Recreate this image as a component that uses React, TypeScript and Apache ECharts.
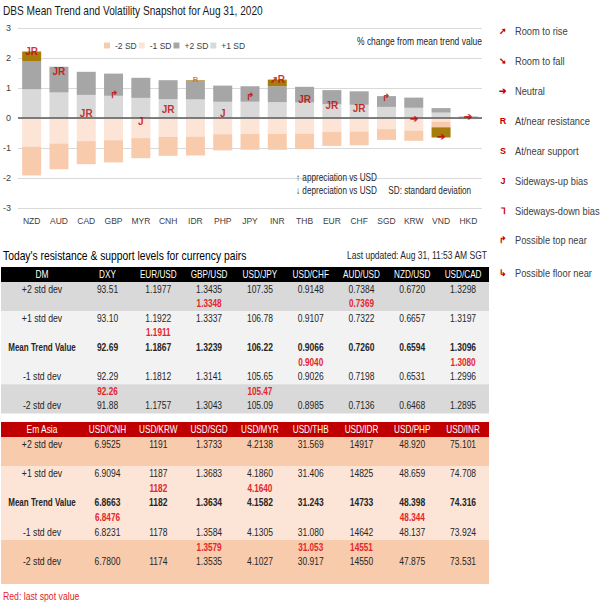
import React, { useEffect, useRef } from "react";
import * as echarts from "echarts";

const FONT = '"Liberation Sans Narrow", "Arial Narrow", "Liberation Sans", Arial, sans-serif';

// ---- chart data (% change from mean trend value) ----
const categories = ["NZD", "AUD", "CAD", "GBP", "MYR", "CNH", "IDR", "PHP", "JPY", "INR", "THB", "EUR", "CHF", "SGD", "KRW", "VND", "HKD"];
const plus1SD = [0.96, 0.85, 0.77, 0.74, 0.67, 0.63, 0.62, 0.54, 0.54, 0.53, 0.52, 0.46, 0.44, 0.37, 0.34, 0.18, 0.03];
const plus2SD = [1.9, 1.71, 1.54, 1.48, 1.34, 1.26, 1.24, 1.08, 1.06, 1.06, 1.04, 0.93, 0.89, 0.73, 0.68, 0.33, 0.05];
const minus1SD = [-0.96, -0.85, -0.77, -0.74, -0.67, -0.63, -0.62, -0.54, -0.53, -0.53, -0.52, -0.46, -0.45, -0.37, -0.42, -0.12, -0.02];
const minus2SD = [-1.92, -1.71, -1.54, -1.48, -1.34, -1.26, -1.25, -1.08, -1.06, -1.06, -1.04, -0.93, -0.91, -0.73, -0.76, -0.31, -0.04];
const spotAbove: (number | null)[] = [2.22, null, null, null, null, null, 1.26, null, null, 1.28, null, null, null, null, null, null, null];
const spotBelow: (number | null)[] = [null, null, null, null, null, null, null, null, null, null, null, null, null, null, null, -0.65, null];
const markerText = ["JR", "JR", "JR", "↱", "J", "JR", "R", "J", "↱", "➚R", "JR", "JR", "JR", "↱", "➔", "➔", "➔"];
const markerY = [2.21, 1.54, 0.14, 0.8, -0.1, 0.3, 1.3, 0.15, 0.71, 1.3, 0.62, 0.41, 0.32, 0.7, 0.0, -0.6, 0.06];
const yTicks = { min: -3, max: 3, interval: 1 };
const legendNames = ["-2 SD", "-1 SD", "+2 SD", "+1 SD"];

const signalGlyphs = ["➚", "➘", "➔", "R", "S", "J", "⅂", "↱", "↳"];
const signalLabels = ["Room to rise", "Room to fall", "Neutral", "At/near resistance", "At/near support", "Sideways-up bias", "Sideways-down bias", "Possible top near", "Possible floor near"];

// ---- table data ----
const levelLabels = ["+2 std dev", "+1 std dev", "Mean Trend Value", "-1 std dev", "-2 std dev"];
const dmHeaders = ["DM", "DXY", "EUR/USD", "GBP/USD", "USD/JPY", "USD/CHF", "AUD/USD", "NZD/USD", "USD/CAD"];
const dmPlus2 = ["93.51", "1.1977", "1.3435", "107.35", "0.9148", "0.7384", "0.6720", "1.3298"];
const dmPlus1 = ["93.10", "1.1922", "1.3337", "106.78", "0.9107", "0.7322", "0.6657", "1.3197"];
const dmMean = ["92.69", "1.1867", "1.3239", "106.22", "0.9066", "0.7260", "0.6594", "1.3096"];
const dmMinus1 = ["92.29", "1.1812", "1.3141", "105.65", "0.9026", "0.7198", "0.6531", "1.2996"];
const dmMinus2 = ["91.88", "1.1757", "1.3043", "105.09", "0.8985", "0.7136", "0.6468", "1.2895"];
const dmSpot = ["92.26", "1.1911", "1.3348", "105.47", "0.9040", "0.7369", "", "1.3080"];
const dmSpotRow = [7, 3, 1, 7, 5, 1, -1, 5];

const emHeaders = ["Em Asia", "USD/CNH", "USD/KRW", "USD/SGD", "USD/MYR", "USD/THB", "USD/IDR", "USD/PHP", "USD/INR"];
const emPlus2 = ["6.9525", "1191", "1.3733", "4.2138", "31.569", "14917", "48.920", "75.101"];
const emPlus1 = ["6.9094", "1187", "1.3683", "4.1860", "31.406", "14825", "48.659", "74.708"];
const emMean = ["6.8663", "1182", "1.3634", "4.1582", "31.243", "14733", "48.398", "74.316"];
const emMinus1 = ["6.8231", "1178", "1.3584", "4.1305", "31.080", "14642", "48.137", "73.924"];
const emMinus2 = ["6.7800", "1174", "1.3535", "4.1027", "30.917", "14550", "47.875", "73.531"];
const emSpot = ["6.8476", "1182", "1.3579", "4.1640", "31.053", "14551", "48.344", ""];
const emSpotRow = [5, 3, 7, 3, 7, 7, 5, -1];

const RED = "#e3262b";
const DARKRED = "#c00000";
const TXT = "#262626";

function txt(text: string, x: number, y: number, opts: any = {}) {
  const align = opts.align || "left";
  const s = opts.scale == null ? 0.87 : opts.scale;
  return {
    type: "text",
    silent: true,
    z: 100,
    x,
    y,
    scaleX: s,
    scaleY: 1,
    style: {
      text,
      x: 0,
      y: 0,
      fill: opts.fill || TXT,
      fontSize: opts.fontSize || 9,
      fontWeight: opts.fontWeight || "normal",
      fontFamily: FONT,
      align,
      textAlign: align,
      verticalAlign: "middle",
      textVerticalAlign: "middle",
    },
  };
}

function buildTable(
  top: number,
  rowH: number,
  nRows: number,
  headers: string[],
  levels: string[][],
  spot: string[],
  spotRow: number[],
  headerColor: string,
  bandDark: string,
  bandLight: string
) {
  const els: any[] = [];
  const left = 1;
  const width = 488;
  const headerH = 15;
  const colX = (i: number) => 107.5 + 50.8 * i;
  els.push({ type: "rect", silent: true, z: 10, shape: { x: left, y: top, width, height: headerH }, style: { fill: headerColor } });
  const bodyTop = top + headerH;
  const bands = [
    [0, 2, bandDark],
    [2, 7, bandLight],
    [7, nRows, bandDark],
  ];
  bands.forEach(([a, b, c]) => {
    els.push({
      type: "rect",
      silent: true,
      z: 10,
      shape: { x: left, y: bodyTop + (a as number) * rowH, width, height: ((b as number) - (a as number)) * rowH },
      style: { fill: c as string },
    });
  });
  els.push(txt(headers[0], 42, top + headerH / 2 + 0.5, { align: "center", fill: "#fff", fontSize: 10, scale: 0.84 }));
  for (let i = 1; i < headers.length; i++) {
    els.push(txt(headers[i], colX(i - 1), top + headerH / 2 + 0.5, { align: "center", fill: "#fff", fontSize: 10, scale: 0.82 }));
  }
  levels.forEach((vals, li) => {
    const r = li * 2;
    const cy = bodyTop + r * rowH + rowH / 2;
    const bold = li === 2 ? "bold" : "normal";
    els.push(txt(levelLabels[li], 42, cy, { align: "center", fontWeight: bold, fontSize: 10, scale: li === 2 ? 0.8 : 0.87 }));
    vals.forEach((v, ci) => {
      els.push(txt(v, colX(ci), cy, { align: "center", fontWeight: bold, fontSize: 10, scale: 0.85 }));
    });
  });
  spot.forEach((v, ci) => {
    if (!v || spotRow[ci] < 0) return;
    const cy = bodyTop + spotRow[ci] * rowH + rowH / 2;
    els.push(txt(v, colX(ci), cy, { align: "center", fill: RED, fontWeight: "bold", fontSize: 10, scale: 0.82 }));
  });
  return els;
}

export default function App() {
  const ref = useRef<HTMLDivElement>(null);
  useEffect(() => {
    if (!ref.current) return;
    const chart = echarts.init(ref.current, undefined, { renderer: "svg" });

    const diffUp = plus2SD.map((v, i) => +(v - plus1SD[i]).toFixed(3));
    const diffDown = minus2SD.map((v, i) => +(v - minus1SD[i]).toFixed(3));
    const goldUp = spotAbove.map((v, i) => (v == null ? null : +(v - plus2SD[i]).toFixed(3)));
    const goldDown = spotBelow.map((v, i) => (v == null ? null : +(v - minus2SD[i]).toFixed(3)));

    const graphics: any[] = [];
    graphics.push(txt("DBS Mean Trend and Volatility Snapshot for Aug 31, 2020", 3, 11, { fontSize: 12.5, fill: "#1a1a1a", scale: 0.81 }));
    graphics.push(txt("% change from mean trend value", 482, 42, { align: "right", fontSize: 10, scale: 0.85 }));
    graphics.push(txt("↑ appreciation vs USD", 296, 178, { fontSize: 10, scale: 0.82 }));
    graphics.push(txt("↓ depreciation vs USD     SD: standard deviation", 296, 191, { fontSize: 10, scale: 0.82 }));

    const legendY = [31, 61, 91, 121, 151, 181, 211, 240, 273];
    signalGlyphs.forEach((g, i) => {
      graphics.push(txt(g, 503, legendY[i], { align: "center", fill: DARKRED, fontSize: 9, fontWeight: "bold", scale: 1 }));
      graphics.push(txt(signalLabels[i], 515, legendY[i], { fontSize: 10, fill: "#404040", scale: 0.93 }));
    });

    graphics.push(txt("Today's resistance & support levels for currency pairs", 3, 256, { fontSize: 12, fill: "#000", scale: 0.86 }));
    graphics.push(txt("Last updated: Aug 31, 11:53 AM SGT", 487, 256, { align: "right", fontSize: 10, scale: 0.85 }));

    graphics.push(
      ...buildTable(267, 14.6, 9, dmHeaders, [dmPlus2, dmPlus1, dmMean, dmMinus1, dmMinus2], dmSpot, dmSpotRow, "#000000", "#d9d9d9", "#f2f2f2")
    );
    graphics.push(
      ...buildTable(422, 14.7, 10, emHeaders, [emPlus2, emPlus1, emMean, emMinus1, emMinus2], emSpot, emSpotRow, DARKRED, "#f8cbad", "#fce4d6")
    );
    graphics.push(txt("Red: last spot value", 3, 597, { fontSize: 10, fill: RED, scale: 0.87 }));

    const barBase = { type: "bar", stack: "s", barWidth: 19 };

    chart.setOption({
      animation: false,
      textStyle: { fontFamily: FONT },
      grid: { left: 18, top: 28, width: 464, height: 180 },
      legend: {
        data: legendNames,
        left: 104,
        top: 41,
        padding: 0,
        itemWidth: 6,
        itemHeight: 6,
        itemGap: 2,
        icon: "rect",
        selectedMode: false,
        textStyle: { fontSize: 8.5, color: "#404040", width: 44, fontFamily: FONT },
      },
      xAxis: {
        type: "category",
        data: categories,
        axisLine: { show: false },
        axisTick: { show: false },
        axisLabel: { color: "#404040", fontSize: 8.5, margin: 8, interval: 0, fontFamily: FONT },
      },
      yAxis: {
        type: "value",
        min: yTicks.min,
        max: yTicks.max,
        interval: yTicks.interval,
        axisLine: { show: false },
        axisTick: { show: false },
        axisLabel: { color: "#404040", fontSize: 9, margin: 7, fontFamily: FONT },
        splitLine: { lineStyle: { color: "#d9d9d9", width: 1 } },
      },
      series: [
        {
          ...barBase,
          name: "+1 SD",
          data: plus1SD,
          itemStyle: { color: "#d9d9d9" },
          markLine: {
            silent: true,
            symbol: "none",
            label: { show: false },
            lineStyle: { color: "#595959", width: 1.5, type: "solid" },
            data: [{ yAxis: 0 }],
            z: 20,
          },
        },
        { ...barBase, name: "+2 SD", data: diffUp, itemStyle: { color: "#a6a6a6" } },
        { ...barBase, name: "spot above", data: goldUp, itemStyle: { color: "#a67c0c" } },
        { ...barBase, name: "-1 SD", data: minus1SD, itemStyle: { color: "#fce4d6" } },
        { ...barBase, name: "-2 SD", data: diffDown, itemStyle: { color: "#f8cbad" } },
        { ...barBase, name: "spot below", data: goldDown, itemStyle: { color: "#a67c0c" } },
        {
          type: "scatter",
          name: "signal",
          z: 30,
          symbol: "rect",
          symbolSize: 1,
          itemStyle: { color: "rgba(0,0,0,0)" },
          data: markerY.map((y, i) =>
            i === 6 ? { value: [i, y], label: { fontSize: 7.5, color: "#d0502a" } } : { value: [i, y] }
          ),
          label: {
            show: true,
            position: "inside",
            formatter: (p: any) => markerText[p.dataIndex],
            color: DARKRED,
            fontSize: 10,
            fontWeight: "bold",
            fontFamily: FONT,
          },
        },
      ],
      graphic: { elements: graphics },
    });
    return () => chart.dispose();
  }, []);
  return <div ref={ref} style={{ position: "fixed", left: 0, top: 0, width: 605, height: 605, background: "#fff" }} />;
}
